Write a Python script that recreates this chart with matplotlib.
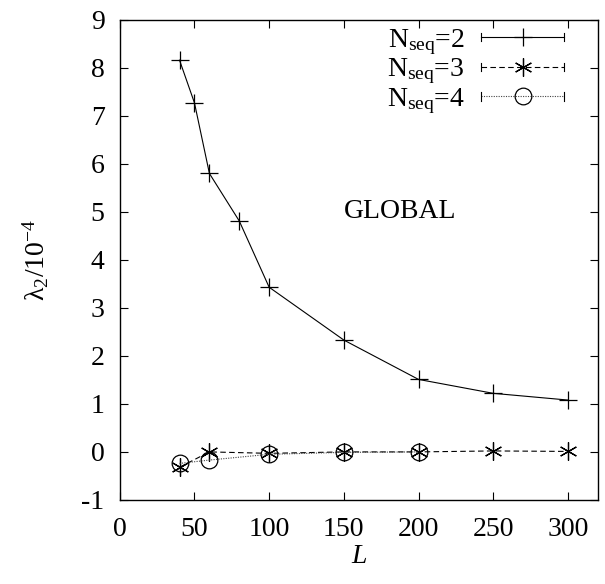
import numpy as np
import matplotlib
matplotlib.use('Agg')
import matplotlib.pyplot as plt
from matplotlib.legend_handler import HandlerLine2D
from matplotlib.lines import Line2D

plt.rcParams['font.family'] = ['Liberation Serif', 'DejaVu Serif']
plt.rcParams['mathtext.fontset'] = 'custom'
plt.rcParams['mathtext.rm'] = 'Liberation Serif'
plt.rcParams['mathtext.it'] = 'Liberation Serif:italic'
plt.rcParams['axes.unicode_minus'] = False

# data
L2 = [40, 50, 60, 80, 100, 150, 200, 250, 300]
lam2 = [8.16, 7.27, 5.80, 4.81, 3.43, 2.33, 1.51, 1.22, 1.08]

L3 = [40, 60, 100, 150, 200, 250, 300]
lam3 = [-0.32, 0.0, -0.03, 0.0, 0.0, 0.02, 0.01]

L4 = [40, 60, 100, 150, 200]
lam4 = [-0.24, -0.17, -0.05, -0.01, 0.0]

labels = [r'N$_{\mathrm{seq}}$=2', r'N$_{\mathrm{seq}}$=3', r'N$_{\mathrm{seq}}$=4']


# key sample with small end caps, like gnuplot errorlines
class CapHandler(HandlerLine2D):
    def create_artists(self, legend, orig_handle, xdescent, ydescent,
                       width, height, fontsize, trans):
        artists = super().create_artists(legend, orig_handle, xdescent, ydescent,
                                         width, height, fontsize, trans)
        x0 = -xdescent
        x1 = -xdescent + width
        y = height / 2 - ydescent
        h = 3
        caps = Line2D([x0, x0, np.nan, x1, x1], [y - h, y + h, np.nan, y - h, y + h],
                      color='black', lw=0.8, transform=trans)
        return artists + [caps]


fig = plt.figure(figsize=(6.05, 5.84), dpi=100)
ax = fig.add_axes([0.198, 0.144, 0.790, 0.822])

ax.plot(L2, lam2, color='black', lw=0.8, ls='-', marker='+',
        ms=13, mew=0.9, label=labels[0])
ax.plot(L3, lam3, color='black', lw=0.8, ls=(0, (5, 3)), marker=(6, 2, 0),
        ms=13, mew=0.9, label=labels[1])
ax.plot(L4, lam4, color='#444444', lw=0.8, ls=(0, (1, 1.2)), marker='o',
        ms=12, mew=0.9, mfc='none', mec='black', label=labels[2])

ax.set_xlim(0, 320)
ax.set_ylim(-1, 9)
ax.set_xticks([0, 50, 100, 150, 200, 250, 300])
ax.set_yticks(range(-1, 10))
ax.tick_params(direction='in', top=True, right=True, length=6, width=0.8,
               labelsize=20)
ax.tick_params(axis='x', pad=12)
ax.tick_params(axis='y', pad=11)
for s in ax.spines.values():
    s.set_linewidth(1.0)

ax.set_xlabel('$L$', fontsize=20, labelpad=2)
ax.set_ylabel('λ$_2$/10$^{-4}$', fontsize=20, labelpad=22)

ax.text(188, 5.0, 'GLOBAL', fontsize=20, ha='center', va='center')

leg = ax.legend(loc='upper right', bbox_to_anchor=(0.965, 1.02), frameon=False,
                markerfirst=False, fontsize=20, handlelength=3.0,
                labelspacing=0.0, handletextpad=0.6, borderaxespad=0.2,
                handler_map={Line2D: CapHandler()})

plt.savefig('out.png', dpi=100)
